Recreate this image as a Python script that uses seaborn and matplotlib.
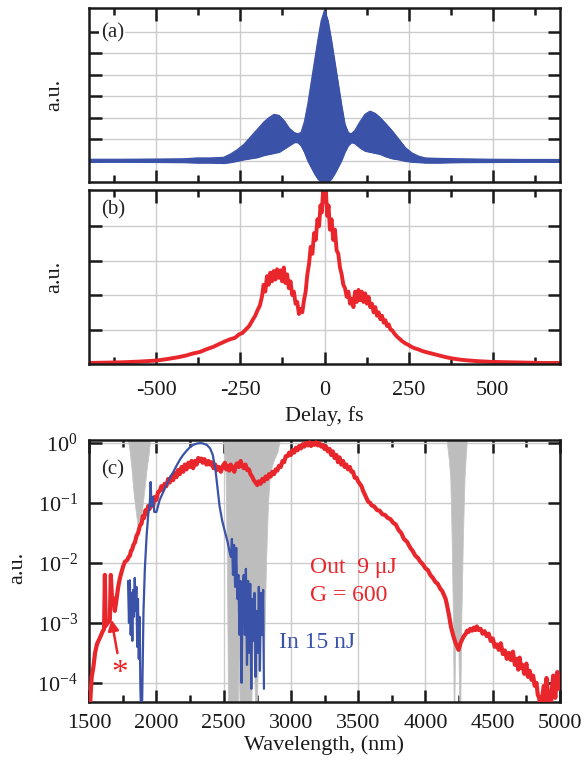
import numpy as np
import pandas as pd
import matplotlib
matplotlib.use("Agg")
import matplotlib.pyplot as plt
import seaborn as sns

# ---------------- Panel (a): interferometric autocorrelation (fringe envelope) ----------------
delay_a = [-700, -600, -500, -420, -380, -340, -300, -280, -260, -240, -220, -200, -180, -165,
           -150, -135, -120, -105, -90, -80, -70, -60, -50, -40, -30, -20, -10, 0, 10, 20, 30,
           40, 50, 60, 70, 80, 90, 105, 120, 135, 150, 165, 180, 200, 220, 240, 260, 280, 300,
           340, 400, 500, 600, 700]
upper_a = [1.06, 1.06, 1.07, 1.08, 1.12, 1.12, 1.15, 1.3, 1.5, 1.75, 2.1, 2.45, 2.8, 3.0,
           3.15, 3.1, 2.85, 2.5, 2.3, 2.25, 2.3, 2.8, 3.6, 4.6, 5.6, 6.6, 7.5, 8.0, 7.5, 6.6, 5.6,
           4.6, 3.6, 2.7, 2.3, 2.25, 2.4, 2.8, 3.15, 3.3, 3.2, 3.0, 2.75, 2.4, 2.0, 1.6, 1.35, 1.2,
           1.12, 1.1, 1.08, 1.06, 1.05, 1.05]
lower_a = [0.94, 0.94, 0.93, 0.92, 0.9, 0.9, 0.88, 0.92, 0.98, 1.05, 1.1, 1.15, 1.25, 1.3,
           1.35, 1.4, 1.55, 1.7, 1.85, 1.85, 1.7, 1.4, 1.0, 0.7, 0.4, 0.15, 0.0, 0.0, 0.0, 0.15,
           0.4, 0.7, 1.0, 1.4, 1.7, 1.85, 1.8, 1.6, 1.45, 1.4, 1.35, 1.3, 1.2, 1.1, 1.05, 0.98,
           0.94, 0.92, 0.9, 0.9, 0.92, 0.93, 0.94, 0.94]

# ---------------- Panel (b): intensity autocorrelation ----------------
delay_b = [-700, -650, -600, -550, -500, -470, -433, -410, -393, -370, -353, -330, -313, -295,
           -280, -266, -254, -244, -234, -224, -214, -206, -199, -192, -186, -181, -176, -171,
           -166, -161, -156, -151, -146, -141, -136, -131, -126, -121, -116, -111, -106, -101,
           -96, -91, -86, -81, -76, -71, -66, -61, -56, -51, -46, -41, -36, -31, -26, -21, -16,
           -12, -8, -4, 0, 4, 8, 12, 16, 21, 26, 31, 36, 41, 46, 51, 56, 61, 66, 71, 76, 81, 86,
           91, 96, 101, 106, 111, 116, 121, 126, 131, 136, 141, 146, 151, 156, 161, 166, 171,
           176, 181, 186, 191, 196, 201, 208, 215, 222, 230, 240, 250, 260, 270, 280, 290, 300,
           320, 340, 360, 380, 400, 430, 460, 500, 550, 600, 650, 700]
ac_b = [0.03, 0.04, 0.05, 0.07, 0.1, 0.14, 0.2, 0.25, 0.3, 0.35, 0.42, 0.5, 0.58, 0.66,
        0.72, 0.76, 0.86, 0.9, 1.0, 1.1, 1.27, 1.4, 1.56, 1.7, 1.95, 2.3, 2.1, 2.55,
        2.3, 2.65, 2.4, 2.7, 2.45, 2.75, 2.5, 2.72, 2.4, 2.8, 2.35, 2.6, 2.2, 2.4,
        2.0, 2.1, 1.75, 1.8, 1.45, 1.6, 1.5, 1.85, 2.1, 2.6, 2.9, 3.4, 3.2, 3.8, 3.6, 4.2, 4.0,
        4.6, 4.4, 5.05, 4.7, 5.05, 4.3, 4.6, 3.9, 4.2, 3.6, 3.9, 3.3, 3.2, 2.8, 2.6, 2.3, 2.2,
        1.95, 2.1, 1.75, 1.9, 1.65, 2.1, 1.8, 2.15, 1.85, 2.1, 1.8, 2.05, 1.75, 1.95, 1.65,
        1.75, 1.5, 1.65, 1.4, 1.5, 1.3, 1.4, 1.2, 1.27, 1.1, 1.15, 1.0, 0.98, 0.88, 0.8, 0.74,
        0.67, 0.6, 0.55, 0.49, 0.45, 0.42, 0.38, 0.35, 0.3, 0.25, 0.2, 0.16, 0.13, 0.1, 0.08,
        0.06, 0.05, 0.04, 0.03, 0.03]

# ---------------- Panel (c): spectra, (wavelength nm, log10 intensity) ----------------
out_points = [
    (1505, -4.5), (1512, -4.2), (1520, -3.9), (1532, -3.75), (1545, -3.5), (1560, -3.35),
    (1581, -3.25), (1600, -3.15), (1612, -3.1), (1618, -2.2), (1624, -3.05), (1640, -3.0),
    (1655, -2.95), (1662, -2.2), (1670, -2.55), (1680, -2.6), (1692, -2.8), (1705, -2.6),
    (1717, -2.4), (1730, -2.25), (1742, -2.15), (1755, -2.05), (1767, -1.98), (1785, -1.95),
    (1795, -1.9), (1804, -1.88), (1812, -1.8), (1820, -1.78), (1830, -1.7), (1841, -1.66),
    (1853, -1.55), (1865, -1.5), (1878, -1.38), (1891, -1.34), (1900, -1.22), (1910, -1.25),
    (1920, -1.12), (1928, -1.18), (1940, -1.05), (1950, -1.1), (1963, -0.98), (1977, -1.05),
    (1988, -0.9), (2000, -0.95), (2013, -0.82), (2026, -0.8), (2038, -0.72), (2050, -0.78),
    (2062, -0.68), (2075, -0.72), (2088, -0.6), (2100, -0.66), (2112, -0.56), (2125, -0.62),
    (2138, -0.5), (2150, -0.57), (2162, -0.45), (2175, -0.52), (2188, -0.4), (2200, -0.48),
    (2212, -0.36), (2225, -0.44), (2238, -0.33), (2250, -0.4), (2262, -0.3), (2274, -0.42),
    (2287, -0.3), (2300, -0.36), (2312, -0.25), (2323, -0.3), (2335, -0.26), (2345, -0.33),
    (2358, -0.27), (2373, -0.36), (2387, -0.3), (2400, -0.36), (2412, -0.32), (2425, -0.42),
    (2438, -0.36), (2450, -0.45), (2465, -0.4), (2480, -0.48), (2495, -0.38), (2510, -0.33),
    (2520, -0.44), (2530, -0.38), (2542, -0.46), (2553, -0.36), (2567, -0.42), (2580, -0.48),
    (2590, -0.38), (2600, -0.34), (2613, -0.4), (2627, -0.3), (2638, -0.38), (2650, -0.42),
    (2663, -0.36), (2675, -0.45), (2688, -0.44), (2700, -0.52), (2712, -0.56), (2725, -0.62),
    (2738, -0.66), (2750, -0.7), (2762, -0.64), (2775, -0.68), (2788, -0.6), (2800, -0.64),
    (2812, -0.56), (2825, -0.6), (2838, -0.52), (2850, -0.56), (2862, -0.48), (2875, -0.52),
    (2888, -0.44), (2900, -0.46), (2912, -0.38), (2925, -0.4), (2938, -0.3), (2950, -0.32),
    (2962, -0.22), (2975, -0.22), (2988, -0.16), (3000, -0.2), (3012, -0.12), (3025, -0.16),
    (3038, -0.08), (3050, -0.12), (3062, -0.05), (3075, -0.09), (3088, -0.02), (3100, -0.06),
    (3112, 0.0), (3125, -0.04), (3138, 0.01), (3150, -0.05), (3162, 0.0), (3175, -0.03),
    (3188, 0.01), (3200, -0.04), (3212, 0.0), (3225, -0.06), (3238, -0.03), (3250, -0.1),
    (3262, -0.06), (3275, -0.14), (3288, -0.1), (3300, -0.2), (3312, -0.14), (3325, -0.25),
    (3338, -0.2), (3350, -0.32), (3362, -0.24), (3375, -0.36), (3388, -0.3), (3400, -0.4),
    (3412, -0.36), (3425, -0.44), (3438, -0.4), (3450, -0.48), (3462, -0.48), (3475, -0.58),
    (3488, -0.58), (3500, -0.64), (3512, -0.68), (3525, -0.72), (3537, -0.8), (3550, -0.86),
    (3562, -0.92), (3575, -0.98), (3590, -1.0), (3600, -1.04), (3620, -1.06), (3641, -1.12),
    (3660, -1.13), (3680, -1.19), (3700, -1.2), (3720, -1.25), (3740, -1.27), (3760, -1.33),
    (3780, -1.36), (3800, -1.45), (3820, -1.5), (3840, -1.6), (3864, -1.65), (3888, -1.75),
    (3905, -1.8), (3925, -1.88), (3945, -1.92), (3962, -1.98), (3980, -2.02), (4000, -2.09),
    (4018, -2.12), (4036, -2.2), (4055, -2.25), (4075, -2.32), (4092, -2.35), (4110, -2.43),
    (4125, -2.47), (4140, -2.55), (4150, -2.6), (4160, -2.7), (4175, -2.87), (4190, -3.07),
    (4210, -3.24), (4225, -3.34), (4246, -3.45), (4262, -3.33), (4283, -3.23), (4300, -3.18),
    (4310, -3.13), (4322, -3.15), (4333, -3.1), (4347, -3.13), (4360, -3.08), (4372, -3.12),
    (4382, -3.06), (4396, -3.12), (4410, -3.1), (4425, -3.18), (4440, -3.14), (4455, -3.22),
    (4470, -3.18), (4485, -3.3), (4500, -3.26), (4515, -3.4), (4530, -3.36), (4545, -3.45),
    (4560, -3.34), (4575, -3.52), (4590, -3.46), (4605, -3.6), (4620, -3.5), (4635, -3.62),
    (4650, -3.48), (4665, -3.7), (4680, -3.6), (4690, -3.78), (4700, -3.58), (4710, -3.75),
    (4720, -3.7), (4735, -3.85), (4750, -3.68), (4762, -3.9), (4775, -3.8), (4788, -3.95),
    (4800, -3.88), (4812, -4.05), (4825, -4.0), (4835, -4.2), (4845, -4.25), (4860, -4.45),
    (4870, -4.2), (4880, -4.05), (4890, -4.3), (4900, -3.92), (4915, -4.3), (4930, -4.45),
    (4940, -4.1), (4950, -3.88), (4965, -4.25), (4972, -4.0), (4980, -3.82), (4990, -4.1),
    (5000, -3.9),
]

in_points = [
    (1790, -2.3), (1797, -3.0), (1804, -2.29), (1810, -3.2), (1816, -2.5), (1822, -3.3),
    (1828, -2.45), (1834, -2.9), (1840, -2.25), (1846, -2.8), (1852, -2.4), (1858, -3.4),
    (1864, -2.6), (1870, -3.6), (1876, -2.9), (1882, -4.1), (1888, -4.6), (1893, -4.6),
    (1905, -2.8), (1915, -2.1), (1928, -1.55), (1940, -1.2), (1952, -1.0), (1958, -0.65),
    (1965, -1.05), (1975, -0.9), (1985, -1.15), (2001, -1.15), (2025, -0.95), (2051, -0.82),
    (2075, -0.7), (2100, -0.58), (2125, -0.49), (2150, -0.38), (2175, -0.28), (2199, -0.2),
    (2225, -0.13), (2250, -0.07), (2275, -0.03), (2300, -0.01), (2330, 0.0), (2350, -0.01),
    (2375, -0.03), (2400, -0.09), (2420, -0.2), (2440, -0.45), (2455, -0.75), (2470, -1.05),
    (2490, -1.3), (2510, -1.48), (2530, -1.65), (2545, -1.82), (2555, -1.9), (2562, -1.6),
    (2570, -2.2), (2578, -1.7), (2586, -2.4), (2594, -1.75), (2602, -2.6), (2610, -2.2),
    (2618, -3.2), (2626, -2.3), (2634, -4.0), (2642, -2.4), (2650, -2.2), (2658, -3.2),
    (2666, -2.1), (2674, -3.7), (2682, -2.3), (2690, -3.5), (2698, -2.35), (2706, -4.1),
    (2714, -2.6), (2722, -3.3), (2730, -2.5), (2738, -3.9), (2746, -2.8), (2754, -3.5),
    (2762, -2.4), (2770, -3.8), (2778, -2.5), (2786, -3.2), (2794, -2.45), (2800, -4.1),
]

# atmospheric absorption bands (lower edge of the grey region, log10)
atm_points = [
    (1500, 0.2), (1780, 0.2), (1800, -0.1), (1815, -0.4), (1830, -0.8), (1845, -1.1),
    (1860, -1.35), (1872, -1.4), (1885, -1.3), (1900, -1.0), (1915, -0.7), (1930, -0.4),
    (1945, -0.15), (1960, 0.2), (2480, 0.2), (2500, 0.0), (2515, -0.5), (2525, -2.0),
    (2535, -5.0), (2600, -5.0), (2612, -3.6), (2625, -5.0), (2700, -5.0), (2720, -3.0),
    (2740, -5.0), (2760, -3.2), (2780, -2.6), (2800, -3.6), (2815, -2.0), (2830, -1.0),
    (2845, -0.5), (2870, -0.3), (2900, -0.15), (2930, 0.2), (4150, 0.2), (4165, -0.1),
    (4175, -0.3), (4185, -0.6), (4195, -1.6), (4205, -3.0), (4212, -5.0), (4220, -3.4),
    (4232, -3.3), (4245, -3.4), (4256, -5.0), (4266, -3.0), (4278, -1.6), (4290, -0.6),
    (4300, -0.2), (4312, 0.2), (5000, 0.2),
]

delay_ticks = [-500, -250, 0, 250, 500]
delay_tick_labels = ["-500", "-250", "0", "250", "500"]
wl_ticks = [1500, 2000, 2500, 3000, 3500, 4000, 4500, 5000]

BLUE = "#3a52a8"
RED = "#e8262b"
GREY = "#bdbdbd"

sns.set_theme(style="ticks")
plt.rcParams["font.family"] = ["Liberation Serif", "DejaVu Serif"]
plt.rcParams["mathtext.fontset"] = "stix"
plt.rcParams["axes.unicode_minus"] = False

W, H = 584, 766
fig = plt.figure(figsize=(W / 100, H / 100), dpi=100)
L_PX, R_PX = 89, 560


def box(top, bottom):
    return [L_PX / W, 1 - bottom / H, (R_PX - L_PX) / W, (bottom - top) / H]


ax_a = fig.add_axes(box(8, 182))
ax_b = fig.add_axes(box(190, 364))
ax_c = fig.add_axes(box(440, 702))

FS = 16


def style(ax):
    for s in ax.spines.values():
        s.set_linewidth(1.8)
        s.set_color("#1a1a1a")
    ax.tick_params(which="both", direction="in", top=True, right=True, width=1.8,
                   color="#1a1a1a", labelsize=FS, labelcolor="#1a1a1a")
    ax.tick_params(which="major", length=9)
    ax.tick_params(which="minor", length=5)
    ax.grid(True, which="major", color="#cccccc", lw=1.0)
    ax.set_axisbelow(True)


# ---- (a)
style(ax_a)
ax_a.fill_between(delay_a, lower_a, upper_a, color=BLUE, lw=0.8, edgecolor=BLUE)
sns.lineplot(x=delay_a, y=upper_a, ax=ax_a, color=BLUE, lw=0.8)
sns.lineplot(x=delay_a, y=lower_a, ax=ax_a, color=BLUE, lw=0.8)
ax_a.set_xlim(-700, 700)
ax_a.set_ylim(0, 8.1)
ax_a.set_xticks(delay_ticks)
ax_a.set_xticks([-625, -375, -125, 125, 375, 625], minor=True)
ax_a.set_yticks([1, 2, 3, 4, 5, 6, 7])
ax_a.tick_params(labelbottom=False, labelleft=False)
ax_a.set_xlabel("")
ax_a.set_ylabel("")
ax_a.text(0.025, 0.856, "(a)", transform=ax_a.transAxes, fontsize=15, va="center",
          ha="left", bbox=dict(facecolor="white", edgecolor="none", pad=1.0))

# ---- (b)
style(ax_b)
sns.lineplot(x=delay_b, y=ac_b, ax=ax_b, color=RED, lw=2.8)
ax_b.set_xlim(-700, 700)
ax_b.set_ylim(0, 5.05)
ax_b.set_xticks(delay_ticks)
ax_b.set_xticklabels(delay_tick_labels)
ax_b.set_xticks([-625, -375, -125, 125, 375, 625], minor=True)
ax_b.set_yticks([1, 2, 3, 4])
ax_b.tick_params(labelleft=False, pad=12)
ax_b.set_ylabel("")
ax_b.set_xlabel("Delay, fs", fontsize=FS, color="#1a1a1a")
ax_b.xaxis.set_label_coords(0.5, -0.24)
ax_b.text(0.025, 0.885, "(b)", transform=ax_b.transAxes, fontsize=15, va="center",
          ha="left", bbox=dict(facecolor="white", edgecolor="none", pad=1.0))

# ---- (c)
style(ax_c)
ax_c.set_yscale("log")
atm_wl = [p[0] for p in atm_points]
atm_vals = [10.0 ** p[1] for p in atm_points]
ax_c.fill_between(atm_wl, atm_vals, 2.0, color=GREY, lw=0.6, edgecolor="#c4c4c4", zorder=1)
sns.lineplot(x=[p[0] for p in out_points], y=[10.0 ** p[1] for p in out_points], ax=ax_c,
             color=RED, lw=3.0, zorder=3)
sns.lineplot(x=[p[0] for p in in_points], y=[10.0 ** p[1] for p in in_points], ax=ax_c,
             color=BLUE, lw=1.6, zorder=4)
ax_c.set_xlim(1500, 5000)
ax_c.set_ylim(10 ** -4.32, 10 ** 0.05)
ax_c.set_xticks(wl_ticks)
ax_c.set_xticks([1750, 2250, 2750, 3250, 3750, 4250, 4750], minor=True)
ax_c.set_yticks([1e0, 1e-1, 1e-2, 1e-3, 1e-4])
ax_c.yaxis.set_minor_locator(matplotlib.ticker.NullLocator())
ax_c.tick_params(axis="x", pad=9)
ax_c.tick_params(axis="y", pad=8)
ax_c.set_ylabel("")
ax_c.set_xlabel("Wavelength, (nm)", fontsize=FS, color="#1a1a1a")
ax_c.xaxis.set_label_coords(0.5, -0.128)
ax_c.text(0.025, 0.885, "(c)", transform=ax_c.transAxes, fontsize=15, va="center",
          ha="left", bbox=dict(facecolor="white", edgecolor="none", pad=1.0), zorder=5)
ax_c.text(3140, 10 ** -2.07, "Out  9 \u03bcJ", color=RED, fontsize=17, va="center", ha="left")
ax_c.text(3140, 10 ** -2.55, "G = 600", color=RED, fontsize=17, va="center", ha="left")
ax_c.text(2915, 10 ** -3.33, "In 15 nJ", color=BLUE, fontsize=17, va="center", ha="left")
ax_c.annotate("", xy=(1663, 10 ** -2.9), xytext=(1715, 10 ** -3.55),
              arrowprops=dict(arrowstyle="-|>", color=RED, lw=1.8, mutation_scale=16))
ax_c.text(1730, 10 ** -3.85, "*", color=RED, fontsize=24, va="center", ha="center")

# y labels
for yc in (95, 277):
    fig.text(55 / W, 1 - yc / H, "a.u.", rotation=90, ha="center", va="center", fontsize=FS,
             color="#1a1a1a")
fig.text(18 / W, 1 - 568 / H, "a.u.", rotation=90, ha="center", va="center", fontsize=FS,
         color="#1a1a1a")

fig.savefig("out.png", dpi=100)
